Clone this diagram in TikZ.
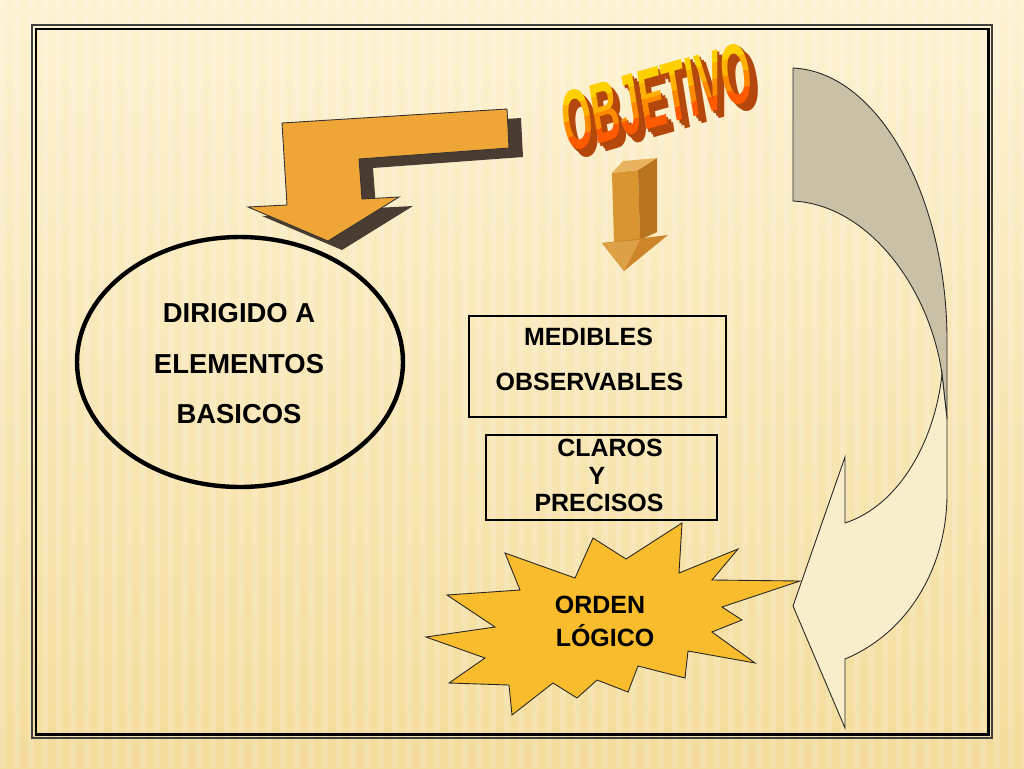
\documentclass[tikz,border=0pt]{standalone}
\usepackage{fontspec}
\setmainfont{Liberation Sans}
\usetikzlibrary{shapes.geometric}
\definecolor{bgtop}{HTML}{FDF2D2}
\definecolor{bgbot}{HTML}{F3DC9C}
\definecolor{arrorange}{HTML}{F0A537}
\definecolor{arrshadow}{HTML}{4A3C30}
\definecolor{dfront}{HTML}{D9952F}
\definecolor{dside}{HTML}{B8741F}
\definecolor{dtop}{HTML}{E9B25E}
\definecolor{dhead}{HTML}{CC8629}
\definecolor{starc}{HTML}{F9BC2C}
\definecolor{grayarr}{HTML}{C9C0A6}
\definecolor{creamarr}{HTML}{F9EECB}
\definecolor{extr}{HTML}{B4470C}
\definecolor{oa}{HTML}{FF5A00}
\definecolor{ob}{HTML}{FF8A00}
\definecolor{oc}{HTML}{FFB000}
\definecolor{od}{HTML}{FFD000}
\tikzset{
  txt/.style={font=\fontsize{14.2}{16}\selectfont\bfseries, inner sep=0pt, text=black},
  etxt/.style={font=\fontsize{15.6}{18}\selectfont\bfseries, inner sep=0pt, text=black},
  wordart/.style={font=\fontsize{24}{24}\selectfont\bfseries, inner sep=0pt, rotate=16, xslant=0.12, xscale=0.92, yscale=2},
  boxstyle/.style={draw=black, line width=1.4pt, inner sep=0pt},
}
\begin{document}
\begin{tikzpicture}[x=0.02cm,y=-0.02cm]
\useasboundingbox (0,0) rectangle (1024,768);
% background
\shade[top color=bgtop, bottom color=bgbot] (0,0) rectangle (1024,768);
\foreach \x in {0,14,...,1024} \fill[white,opacity=0.16] (\x,0) rectangle ++(6,768);
% frame
\draw[black!75, line width=0.6pt] (32,25) rectangle (992,738);
\draw[black, line width=1.7pt] (36,29) rectangle (988,734);

% bent arrow with shadow
\begin{scope}[shift={(14,9)}]
\fill[arrshadow] (282,123) -- (507,109) -- (509,148) -- (359,159) -- (362,199) -- (399,197) -- (328,241) -- (248,207) -- (287,205) -- cycle;
\end{scope}
\draw[fill=arrorange, line width=0.5pt, draw=black!80] (282,123) coordinate (ba1) -- (507,109) -- (509,148) -- (359,159) -- (362,199) -- (399,197) -- (328,241) coordinate (batip) -- (248,207) -- (287,205) -- cycle;

% 3D down arrow
\fill[dfront] (612,173) -- (638,170) -- (640,240) -- (614,244) -- cycle;
\fill[dside] (638,170) -- (657,158) -- (657,232) -- (640,240) -- cycle;
\fill[dtop] (612,173) -- (623,161) -- (657,158) -- (638,170) -- cycle;
\fill[dhead] (602,243) -- (668,235) -- (624,271) coordinate (datip) -- cycle;
\fill[dfront!90!white] (602,243) -- (640,240) -- (624,271) -- cycle;

% OBJETIVO word art: extrusion
\foreach \d in {7.5,5,2.5} {
  \begin{scope}[shift={(657+\d,97+\d)}]
    \node[wordart, text=extr] at (0,0) {OBJETIVO};
  \end{scope}
}
% OBJETIVO face with a stepped gradient
\foreach \a/\b/\col in {-70/-14/oa, -14/2/ob, 2/18/oc, 18/80/od} {
  \begin{scope}
    \clip ({657+220*0.961-\a*0.276},{97-220*0.276-\a*0.961}) --
          ({657-220*0.961-\a*0.276},{97+220*0.276-\a*0.961}) --
          ({657-220*0.961-\b*0.276},{97+220*0.276-\b*0.961}) --
          ({657+220*0.961-\b*0.276},{97-220*0.276-\b*0.961}) -- cycle;
    \begin{scope}[shift={(657,97)}]
      \node[wordart, text=\col] (obj) at (0,0) {OBJETIVO};
    \end{scope}
  \end{scope}
}

% ellipse
\node[draw=black, line width=2.5pt, ellipse, minimum width=6.52cm, minimum height=5cm, inner sep=0pt] (ell) at (240,362) {};
\node[etxt] (e1) at (239,313) {DIRIGIDO A};
\node[etxt] (e2) at (239,364) {ELEMENTOS};
\node[etxt] (e3) at (239,414) {BASICOS};

% boxes
\node[boxstyle, minimum width=5.14cm, minimum height=2.02cm] (b1) at (597.5,366.5) {};
\node[txt] (m1) at (588.5,337) {MEDIBLES};
\node[txt] (m2) at (589.5,382) {OBSERVABLES};
\node[boxstyle, minimum width=4.62cm, minimum height=1.7cm] (b2) at (601.5,477.5) {};
\node[txt] (c1) at (610,448) {CLAROS};
\node[txt] (c2) at (597,476) {Y};
\node[txt] (c3) at (599,503) {PRECISOS};

% starburst
\draw[fill=starc, draw=black!85, line width=0.5pt]
  (682,523) -- (679,573) -- (738,549) -- (712,580) -- (800,581) -- (722,607) -- (742,620) -- (712,632)
  -- (755,663) -- (688,651) -- (685,678) -- (638,666) -- (628,692) -- (597,680) -- (577,698) -- (553,683)
  -- (512,715) -- (509,685) -- (449,683) -- (485,658) -- (426,637) -- (495,627) -- (447,595) -- (520,590)
  -- (505,553) -- (575,578) -- (593,538) -- (626,559) -- cycle;
\node[txt] (o1) at (600,605) {ORDEN};
\node[txt] (o2) at (605,636) {LÓGICO};

% curved arrow on the right
\draw[fill=grayarr, draw=black!85, line width=0.5pt]
  (793,68) .. controls (880,72) and (947,200) .. (947,340) -- (947,419) -- (942,374)
  .. controls (930,290) and (870,205) .. (793,201) -- cycle;
\draw[fill=creamarr, draw=black!85, line width=0.5pt]
  (942,374) .. controls (935,440) and (900,505) .. (845,523) -- (845,457) -- (793,606) coordinate (catip)
  -- (845,728) -- (845,659) .. controls (910,632) and (947,565) .. (947,494) -- (947,419) -- cycle;
\end{tikzpicture}
\end{document}
